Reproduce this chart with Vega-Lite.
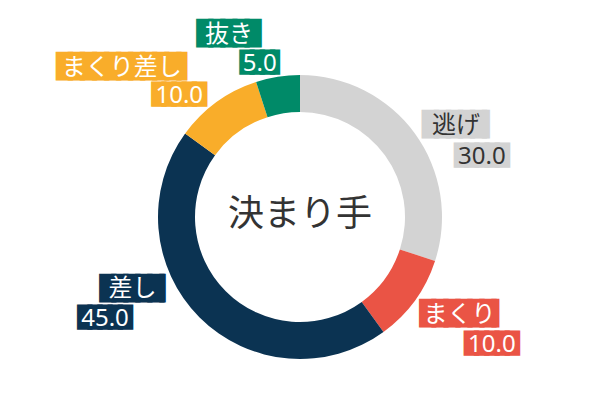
{
  "$schema": "https://vega.github.io/schema/vega-lite/v6.json",
  "width": 600,
  "height": 366,
  "autosize": "none",
  "padding": {"top": 34, "left": 0, "right": 0, "bottom": 0},
  "background": "white",
  "config": {"view": {"stroke": null}, "font": "Noto Sans CJK JP"},
  "data": {
    "values": [
      {"name": "逃げ", "value": 30, "rank": 1},
      {"name": "まくり", "value": 10, "rank": 2},
      {"name": "差し", "value": 45, "rank": 3},
      {"name": "まくり差し", "value": 10, "rank": 4},
      {"name": "抜き", "value": 5, "rank": 5}
    ]
  },
  "layer": [
    {
      "data": {"values": [{"label": "決まり手"}]},
      "mark": {"type": "text", "fontSize": 36, "font": "Noto Sans CJK JP", "color": "#333333", "dy": -2, "align": "center", "baseline": "middle"},
      "encoding": {"text": {"field": "label", "type": "nominal"}}
    },
    {
      "encoding": {
        "theta": {"field": "value", "type": "quantitative", "stack": true},
        "order": {"field": "rank", "type": "quantitative"},
        "detail": {"field": "name", "type": "nominal"}
      },
      "layer": [
        {
          "mark": {"type": "arc", "innerRadius": 105, "outerRadius": 142},
          "encoding": {
            "color": {
              "field": "name",
              "type": "nominal",
              "scale": {"domain": ["逃げ", "まくり", "差し", "まくり差し", "抜き"], "range": ["#d3d3d3", "#ea5445", "#0b3352", "#f9ad2a", "#008a68"]},
              "legend": null
            }
          }
        },

        {"mark": {"type": "text", "radius": 142, "align": "center", "baseline": "middle", "font": "DejaVu Sans Mono", "fontSize": 20, "color": "#d3d3d3", "stroke": "#d3d3d3", "strokeWidth": 5, "strokeJoin": "miter", "dx": 45.6, "dy": -8.5},
         "encoding": {"text": {"condition": {"test": "datum.name == '逃げ'", "value": "█████▎"}, "value": ""}}},
        {"mark": {"type": "text", "radius": 142, "align": "center", "baseline": "middle", "fontSize": 24, "color": "#333333", "dx": 41, "dy": -7.5},
         "encoding": {"text": {"condition": {"test": "datum.name == '逃げ'", "field": "name"}, "value": ""}}},
        {"mark": {"type": "text", "radius": 142, "align": "center", "baseline": "middle", "font": "DejaVu Sans Mono", "fontSize": 17, "color": "#d3d3d3", "stroke": "#d3d3d3", "strokeWidth": 5, "strokeJoin": "miter", "dx": 67, "dy": 22.5},
         "encoding": {"text": {"condition": {"test": "datum.name == '逃げ'", "value": "█████"}, "value": ""}}},
        {"mark": {"type": "text", "radius": 142, "align": "center", "baseline": "middle", "font": "Noto Sans", "fontSize": 24, "color": "#333333", "dx": 67, "dy": 23.5},
         "encoding": {"text": {"condition": {"test": "datum.name == '逃げ'", "field": "value", "type": "quantitative", "format": ".1f"}, "value": ""}}},

        {"mark": {"type": "text", "radius": 142, "align": "center", "baseline": "middle", "font": "DejaVu Sans Mono", "fontSize": 20, "color": "#ea5445", "stroke": "#ea5445", "strokeWidth": 5, "strokeJoin": "miter", "dx": 49.1, "dy": 14},
         "encoding": {"text": {"condition": {"test": "datum.name == 'まくり'", "value": "██████▎"}, "value": ""}}},
        {"mark": {"type": "text", "radius": 142, "align": "center", "baseline": "middle", "fontSize": 24, "color": "white", "dx": 44.6, "dy": 15},
         "encoding": {"text": {"condition": {"test": "datum.name == 'まくり'", "field": "name"}, "value": ""}}},
        {"mark": {"type": "text", "radius": 142, "align": "center", "baseline": "middle", "font": "DejaVu Sans Mono", "fontSize": 17, "color": "#ea5445", "stroke": "#ea5445", "strokeWidth": 5, "strokeJoin": "miter", "dx": 77, "dy": 44},
         "encoding": {"text": {"condition": {"test": "datum.name == 'まくり'", "value": "█████"}, "value": ""}}},
        {"mark": {"type": "text", "radius": 142, "align": "center", "baseline": "middle", "font": "Noto Sans", "fontSize": 24, "color": "white", "dx": 77, "dy": 45},
         "encoding": {"text": {"condition": {"test": "datum.name == 'まくり'", "field": "value", "type": "quantitative", "format": ".1f"}, "value": ""}}},

        {"mark": {"type": "text", "radius": 142, "align": "center", "baseline": "middle", "font": "DejaVu Sans Mono", "fontSize": 20, "color": "#0b3352", "stroke": "#0b3352", "strokeWidth": 5, "strokeJoin": "miter", "dx": -61.8, "dy": -28.9},
         "encoding": {"text": {"condition": {"test": "datum.name == '差し'", "value": "█████▏"}, "value": ""}}},
        {"mark": {"type": "text", "radius": 142, "align": "center", "baseline": "middle", "fontSize": 24, "color": "white", "dx": -67, "dy": -28},
         "encoding": {"text": {"condition": {"test": "datum.name == '差し'", "field": "name"}, "value": ""}}},
        {"mark": {"type": "text", "radius": 142, "align": "center", "baseline": "middle", "font": "DejaVu Sans Mono", "fontSize": 17, "color": "#0b3352", "stroke": "#0b3352", "strokeWidth": 5, "strokeJoin": "miter", "dx": -94.6, "dy": 0.6},
         "encoding": {"text": {"condition": {"test": "datum.name == '差し'", "value": "█████"}, "value": ""}}},
        {"mark": {"type": "text", "radius": 142, "align": "center", "baseline": "middle", "font": "Noto Sans", "fontSize": 24, "color": "white", "dx": -94.6, "dy": 1.6},
         "encoding": {"text": {"condition": {"test": "datum.name == '差し'", "field": "value", "type": "quantitative", "format": ".1f"}, "value": ""}}},

        {"mark": {"type": "text", "radius": 142, "align": "center", "baseline": "middle", "font": "DejaVu Sans Mono", "fontSize": 20, "color": "#f9ad2a", "stroke": "#f9ad2a", "strokeWidth": 5, "strokeJoin": "miter", "dx": -91.8, "dy": -34.9},
         "encoding": {"text": {"condition": {"test": "datum.name == 'まくり差し'", "value": "██████████▌"}, "value": ""}}},
        {"mark": {"type": "text", "radius": 142, "align": "center", "baseline": "middle", "fontSize": 24, "color": "white", "dx": -94.8, "dy": -34},
         "encoding": {"text": {"condition": {"test": "datum.name == 'まくり差し'", "field": "name"}, "value": ""}}},
        {"mark": {"type": "text", "radius": 142, "align": "center", "baseline": "middle", "font": "DejaVu Sans Mono", "fontSize": 17, "color": "#f9ad2a", "stroke": "#f9ad2a", "strokeWidth": 5, "strokeJoin": "miter", "dx": -37.3, "dy": -6.9},
         "encoding": {"text": {"condition": {"test": "datum.name == 'まくり差し'", "value": "█████"}, "value": ""}}},
        {"mark": {"type": "text", "radius": 142, "align": "center", "baseline": "middle", "font": "Noto Sans", "fontSize": 24, "color": "white", "dx": -37.3, "dy": -6},
         "encoding": {"text": {"condition": {"test": "datum.name == 'まくり差し'", "field": "value", "type": "quantitative", "format": ".1f"}, "value": ""}}},

        {"mark": {"type": "text", "radius": 142, "align": "center", "baseline": "middle", "font": "DejaVu Sans Mono", "fontSize": 20, "color": "#008a68", "stroke": "#008a68", "strokeWidth": 5, "strokeJoin": "miter", "dx": -48.9, "dy": -42.9},
         "encoding": {"text": {"condition": {"test": "datum.name == '抜き'", "value": "█████"}, "value": ""}}},
        {"mark": {"type": "text", "radius": 142, "align": "center", "baseline": "middle", "fontSize": 24, "color": "white", "dx": -48.9, "dy": -42},
         "encoding": {"text": {"condition": {"test": "datum.name == '抜き'", "field": "name"}, "value": ""}}},
        {"mark": {"type": "text", "radius": 142, "align": "center", "baseline": "middle", "font": "DejaVu Sans Mono", "fontSize": 17, "color": "#008a68", "stroke": "#008a68", "strokeWidth": 5, "strokeJoin": "miter", "dx": -15.5, "dy": -14},
         "encoding": {"text": {"condition": {"test": "datum.name == '抜き'", "value": "███▌"}, "value": ""}}},
        {"mark": {"type": "text", "radius": 142, "align": "center", "baseline": "middle", "font": "Noto Sans", "fontSize": 24, "color": "white", "dx": -18.1, "dy": -13},
         "encoding": {"text": {"condition": {"test": "datum.name == '抜き'", "field": "value", "type": "quantitative", "format": ".1f"}, "value": ""}}}
      ]
    }
  ]
}
